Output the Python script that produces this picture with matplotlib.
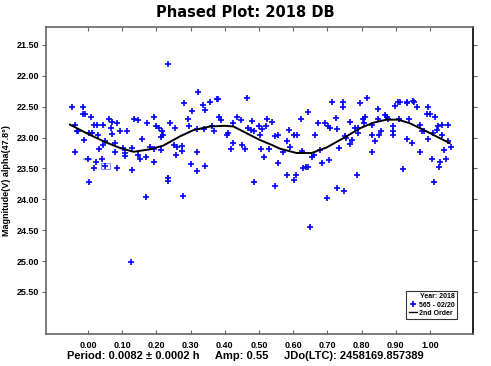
from matplotlib import pyplot as plt
from matplotlib.lines import Line2D
from matplotlib.patches import Rectangle, Circle

plt.rcParams['font.family'] = ['Liberation Sans', 'DejaVu Sans']
plt.rcParams['font.weight'] = 'bold'

phase = [0.233, -0.048, -0.016, -0.016, -0.009, 0.008, -0.038, -0.033, -0.028, 0.004,
	-0.012, -0.038, -0.001, 0.023, 0.040, 0.050, 0.018, 0.004, 0.086, 0.128,
	0.169, 0.018, 0.027, 0.045, 0.013, 0.030, 0.062, 0.069, 0.086, 0.066,
	0.092, 0.113, 0.069, 0.050, 0.043, 0.033, 0.079, 0.103, 0.108, 0.128,
	0.108, 0.079, 0.134, 0.147, 0.172, 0.194, 0.200, 0.208, 0.215, 0.220,
	0.213, 0.158, 0.181, 0.194, 0.147, 0.152, 0.170, 0.194, 0.213, 0.240,
	0.254, 0.235, 0.235, 0.252, 0.259, 0.274, 0.274, 0.257, 0.279, 0.323,
	0.281, 0.303, 0.337, 0.342, 0.357, 0.376, 0.381, 0.293, 0.296, 0.318,
	0.340, 0.362, 0.368, 0.384, 0.389, 0.318, 0.300, 0.320, 0.342, 0.405,
	0.410, 0.423, 0.425, 0.417, 0.449, 0.459, 0.437, 0.447, 0.464, 0.480,
	0.469, 0.478, 0.485, 0.500, 0.508, 0.520, 0.524, 0.539, 0.503, 0.547,
	0.556, 0.505, 0.529, 0.516, 0.556, 0.485, 0.547, 0.569, 0.581, 0.589,
	0.591, 0.583, 0.602, 0.608, 0.603, 0.610, 0.623, 0.642, 0.625, 0.630,
	0.637, 0.644, 0.664, 0.654, 0.661, 0.673, 0.678, 0.683, 0.693, 0.703,
	0.708, 0.705, 0.713, 0.725, 0.727, 0.734, 0.747, 0.747, 0.751, 0.754,
	0.766, 0.766, 0.771, 0.781, 0.789, 0.790, 0.787, 0.727, 0.749, 0.700,
	0.795, 0.815, 0.805, 0.810, 0.808, 0.830, 0.830, 0.831, 0.839, 0.849,
	0.849, 0.856, 0.852, 0.868, 0.873, 0.876, 0.893, 0.891, 0.893, 0.898,
	0.907, 0.912, 0.932, 0.932, 0.951, 0.954, 0.961, 0.910, 0.939, 0.920,
	0.932, 0.949, 0.971, 0.976, 0.982, 0.971, 0.993, 0.990, 1.000, 1.015,
	0.995, 1.008, 1.025, 1.034, 1.054, 1.021, 1.034, 1.005, 1.029, 1.027,
	1.047, 1.042, 1.054, 1.061, 1.012, 0.126, 0.649]
mag = [21.81, 22.50, 22.50, 22.62, 22.62, 22.66, 22.79, 22.89, 22.90, 22.92,
	23.04, 23.24, 23.35, 23.39, 23.35, 23.46, 23.49, 23.72, 23.49, 23.52,
	23.97, 22.79, 22.79, 22.79, 22.93, 22.96, 22.70, 22.74, 22.77, 22.85,
	22.89, 22.90, 22.94, 23.05, 23.12, 23.19, 23.09, 23.17, 23.25, 23.17,
	23.30, 23.23, 22.70, 22.71, 22.77, 22.66, 22.81, 22.85, 22.89, 22.96,
	22.99, 23.03, 23.16, 23.19, 23.28, 23.35, 23.32, 23.39, 23.20, 22.76,
	22.84, 23.65, 23.71, 23.12, 23.16, 23.13, 23.21, 23.28, 23.95, 22.26,
	22.44, 22.57, 22.47, 22.55, 22.42, 22.38, 22.38, 22.70, 22.82, 22.86,
	22.86, 22.82, 22.90, 22.67, 22.71, 23.24, 23.43, 23.54, 23.46, 22.96,
	22.93, 22.77, 23.09, 23.19, 23.12, 23.19, 22.67, 22.71, 22.36, 22.73,
	22.85, 22.88, 22.89, 22.81, 22.86, 22.81, 22.70, 22.74, 22.96, 22.98,
	22.96, 23.19, 23.19, 23.31, 23.41, 23.72, 23.79, 23.23, 23.06, 22.88,
	23.16, 23.60, 23.68, 23.60, 22.96, 22.96, 22.70, 22.58, 23.21, 23.50,
	23.48, 23.47, 22.96, 23.31, 23.28, 22.77, 23.20, 23.41, 22.77, 22.82,
	22.85, 23.36, 22.42, 22.69, 22.86, 23.17, 22.42, 22.50, 22.98, 23.01,
	22.75, 23.10, 23.04, 22.85, 22.84, 22.93, 23.60, 23.82, 23.87, 23.98,
	22.44, 22.36, 22.70, 22.67, 22.77, 22.79, 22.96, 23.23, 23.06, 22.53,
	22.70, 22.89, 22.96, 22.63, 22.67, 22.70, 22.81, 22.90, 22.96, 22.49,
	22.43, 22.42, 22.42, 22.44, 22.40, 22.43, 22.50, 22.70, 22.70, 23.51,
	23.03, 23.08, 22.79, 22.90, 22.89, 23.24, 22.50, 22.62, 22.62, 22.66,
	23.03, 22.92, 22.81, 22.79, 22.79, 22.88, 22.96, 23.35, 23.39, 23.48,
	23.35, 23.20, 23.06, 23.16, 23.72, 25.02, 24.44]

# the two highlighted observations
circled = (-0.001, 23.35)
boxed = (0.050, 23.46)

fit_phase = [-0.053, -0.004, 0.045, 0.094, 0.133, 0.181, 0.220, 0.269, 0.308, 0.357,
	0.401, 0.425, 0.464, 0.503, 0.542, 0.561, 0.610, 0.654, 0.698, 0.756,
	0.795, 0.834, 0.873, 0.907, 0.942, 0.990, 1.029, 1.058]
fit_mag = [22.79, 22.93, 23.06, 23.17, 23.23, 23.19, 23.13, 22.98, 22.88, 22.82,
	22.81, 22.82, 22.93, 23.04, 23.13, 23.18, 23.25, 23.25, 23.16, 22.98,
	22.85, 22.76, 22.71, 22.71, 22.77, 22.90, 23.01, 23.09]

xticks = [0.0, 0.1, 0.2, 0.3, 0.4, 0.5, 0.6, 0.7, 0.8, 0.9, 1.0]
yticks = [21.5, 22.0, 22.5, 23.0, 23.5, 24.0, 24.5, 25.0, 25.5]

fig = plt.figure(figsize=(4.91, 3.66), dpi=100)
ax = fig.add_axes([46/491, 32/366, 427/491, 307/366])

ax.plot(phase, mag, '+', color='#0000ff', markersize=5, markeredgewidth=1.2)
ax.plot(fit_phase, fit_mag, '-', color='black', linewidth=1.4)
ax.add_patch(Circle(circled, 0.012, fill=False, edgecolor='#9090ff', linewidth=0.8))
ax.add_patch(Rectangle((boxed[0]-0.013, boxed[1]-0.05), 0.026, 0.1, fill=False,
	edgecolor='#9090ff', linewidth=0.8))

ax.set_xlim(-0.123, 1.126)
ax.set_ylim(26.18, 21.21)
ax.set_xticks(xticks)
ax.set_xticklabels(['%.2f' % v for v in xticks])
ax.set_yticks(yticks)
ax.set_yticklabels(['%.2f' % v for v in yticks])
ax.tick_params(axis='both', labelsize=6.5, colors='#666666', labelcolor='black',
	length=3, width=0.8, top=True, right=True)
ax.tick_params(axis='x', direction='in', pad=5)
ax.tick_params(axis='y', direction='out', pad=2)
for s in ['left', 'bottom', 'top']:
	ax.spines[s].set_color('#666666')
	ax.spines[s].set_linewidth(1.2)
ax.spines['right'].set_color('black')
ax.spines['right'].set_linewidth(1.2)

ax.set_ylabel('Magnitude(V) alpha(47.8°)', fontsize=6.5, fontweight='bold', labelpad=4)
fig.suptitle('Phased Plot: 2018 DB', fontsize=10.5, fontweight='heavy',
	family='DejaVu Sans', y=0.985)
fig.text(0.5, 0.028, 'Period: 0.0082 ± 0.0002 h     Amp: 0.55     JDo(LTC): 2458169.857389',
	ha='center', va='center', fontsize=8, fontweight='bold')

handles = [Line2D([], [], ls='none', marker='+', color='#0000ff', markersize=4, markeredgewidth=1.2),
	Line2D([], [], color='black', linewidth=1.0)]
leg = ax.legend(handles, ['565 - 02/20', '2nd Order'], title='Year: 2018',
	loc='lower right', bbox_to_anchor=(0.962, 0.05), fontsize=5, title_fontsize=5,
	alignment='right', frameon=True, fancybox=False, handlelength=1.2,
	handletextpad=0.3, borderpad=0.3, labelspacing=0.15, borderaxespad=0)
leg.get_frame().set_edgecolor('black')
leg.get_frame().set_linewidth(0.8)
leg.get_title().set_fontweight('bold')

plt.savefig('out.png', dpi=100)
